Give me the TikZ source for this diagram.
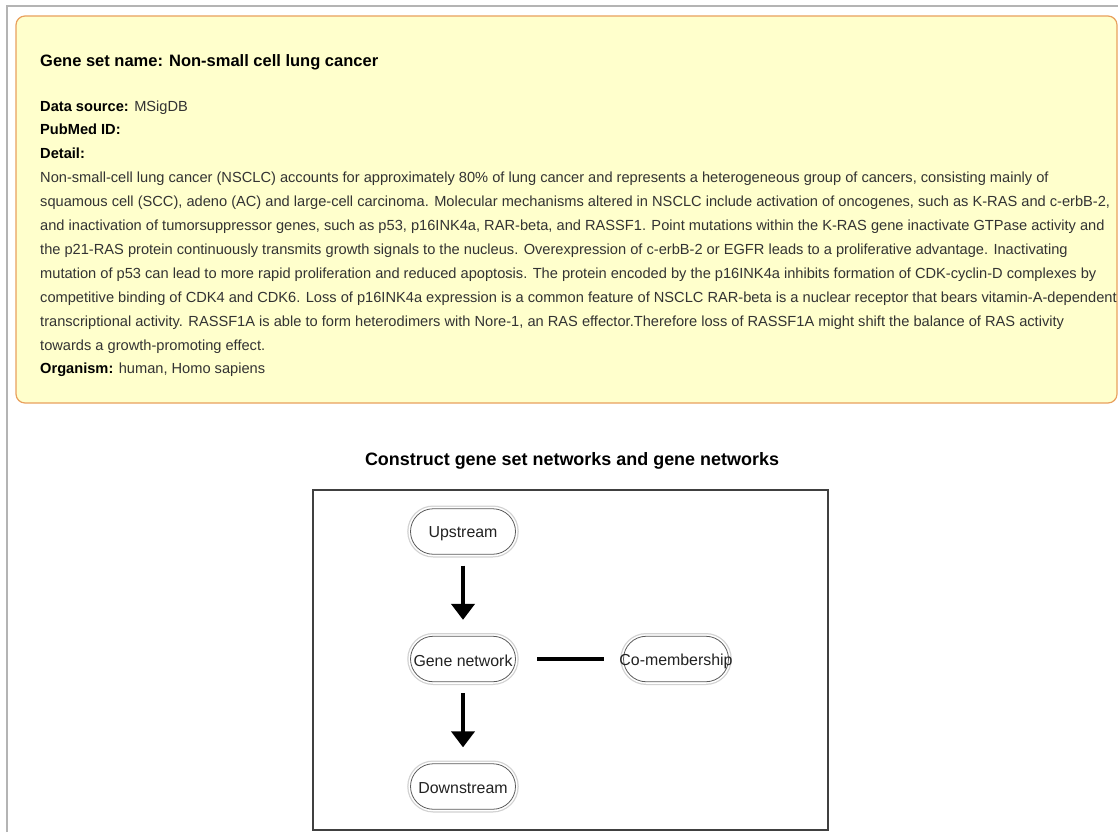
\documentclass[tikz,border=0pt]{standalone}
\usepackage{fontspec}
\setmainfont{Liberation Sans}
\usetikzlibrary{arrows.meta,shapes.misc}

\definecolor{pageframe}{HTML}{B4B4B4}
\definecolor{notefill}{HTML}{FFFFCC}
\definecolor{noteedge}{HTML}{E9A15E}
\definecolor{bodytext}{HTML}{333333}
\definecolor{ringgray}{HTML}{D2D2D2}
\definecolor{nodeedge}{HTML}{5A5A5A}
\definecolor{nodetext}{HTML}{222222}
\definecolor{boxedge}{HTML}{404040}

% font size (in pt) that sets #4 at width #3, using switch #2
\newlength\fitwd
\newcommand\fitsize[4]{%
  \settowidth\fitwd{#2\fontsize{10pt}{12pt}\selectfont #4}%
  \pgfmathsetmacro#1{10*#3/\fitwd}}
\newcommand\fieldname[1]{\textcolor{black}{\bfseries #1}}

\begin{document}
\fitsize{\bodysz}{}{1070}{squamous cell (SCC), adeno (AC) and large-cell carcinoma. Molecular mechanisms altered in NSCLC include activation of oncogenes, such as K-RAS and c-erbB-2,}%
\fitsize{\headsz}{\bfseries}{338}{Gene set name: Non-small cell lung cancer}%
\fitsize{\titlesz}{\bfseries}{414}{Construct gene set networks and gene networks}%
\fitsize{\nodesz}{}{99}{Gene network}%
\begin{tikzpicture}[x=1pt,y=-1pt]
\tikzset{
  line/.style={anchor=base west, inner sep=0pt, text=bodytext,
    font=\fontsize{\bodysz pt}{\bodysz pt}\selectfont},
  gnode/.style={rounded rectangle, minimum width=105pt, minimum height=45.5pt,
    inner sep=0pt, fill=white, draw=nodeedge, line width=0.8pt,
    preaction={draw=ringgray, line width=6.5pt},
    preaction={draw=white, line width=4pt},
    label={[text=nodetext, yshift=-2pt,
      font=\fontsize{\nodesz pt}{\nodesz pt}\selectfont]center:#1}},
  flow/.style={line width=4pt, -{Triangle[width=23pt,length=16pt]}},
}
\fill[white] (0,0) rectangle (1118,832);
\useasboundingbox (0,0) rectangle (1118,832);

% page frame
\draw[pageframe, line width=2pt] (7,832) -- (7,6) -- (1118,6);

% gene set description panel
\draw[noteedge, fill=notefill, line width=1.2pt, rounded corners=9pt]
  (16,16) rectangle (1117,403);
\node[anchor=base west, inner sep=0pt,
  font=\fontsize{\headsz pt}{\headsz pt}\selectfont\bfseries] (head) at (40,67)
  {Gene set name: Non-small cell lung cancer};
\node[line] (src) at (40,111.0) {\fieldname{Data source:} MSigDB};
\node[line] (pmid) at (40,134.9) {\fieldname{PubMed ID:}};
\node[line] (det) at (40,158.8) {\fieldname{Detail:}};
\node[line] (d1) at (40,182.7) {Non-small-cell lung cancer (NSCLC) accounts for approximately 80\% of lung cancer and represents a heterogeneous group of cancers, consisting mainly of};
\node[line] (d2) at (40,206.6) {squamous cell (SCC), adeno (AC) and large-cell carcinoma. Molecular mechanisms altered in NSCLC include activation of oncogenes, such as K-RAS and c-erbB-2,};
\node[line] (d3) at (40,230.5) {and inactivation of tumorsuppressor genes, such as p53, p16INK4a, RAR-beta, and RASSF1. Point mutations within the K-RAS gene inactivate GTPase activity and};
\node[line] (d4) at (40,254.4) {the p21-RAS protein continuously transmits growth signals to the nucleus. Overexpression of c-erbB-2 or EGFR leads to a proliferative advantage. Inactivating};
\node[line] (d5) at (40,278.3) {mutation of p53 can lead to more rapid proliferation and reduced apoptosis. The protein encoded by the p16INK4a inhibits formation of CDK-cyclin-D complexes by};
\node[line] (d6) at (40,302.2) {competitive binding of CDK4 and CDK6. Loss of p16INK4a expression is a common feature of NSCLC RAR-beta is a nuclear receptor that bears vitamin-A-dependent};
\node[line] (d7) at (40,326.1) {transcriptional activity. RASSF1A is able to form heterodimers with Nore-1, an RAS effector.Therefore loss of RASSF1A might shift the balance of RAS activity};
\node[line] (d8) at (40,350.0) {towards a growth-promoting effect.};
\node[line] (org) at (40,373.9) {\fieldname{Organism:} human, Homo sapiens};

% network construction scheme
\node[anchor=base, inner sep=0pt,
  font=\fontsize{\titlesz pt}{\titlesz pt}\selectfont\bfseries] (title) at (572,465)
  {Construct gene set networks and gene networks};
\draw[boxedge, line width=1.6pt] (313,490) rectangle (828,830);

\node[gnode=Upstream] (up) at (463,531.5) {};
\node[gnode=Gene network] (gn) at (463,659) {};
\node[gnode=Co-membership] (cm) at (676,659) {};
\node[gnode=Downstream] (down) at (463,786.5) {};

\draw[flow, shorten <=11pt, shorten >=16pt] (up.south) -- (gn.north);
\draw[flow, shorten <=11pt, shorten >=16pt] (gn.south) -- (down.north);
\draw[line width=4pt, shorten <=21.5pt, shorten >=19.5pt] (gn.east) -- (cm.west);
\end{tikzpicture}
\end{document}
